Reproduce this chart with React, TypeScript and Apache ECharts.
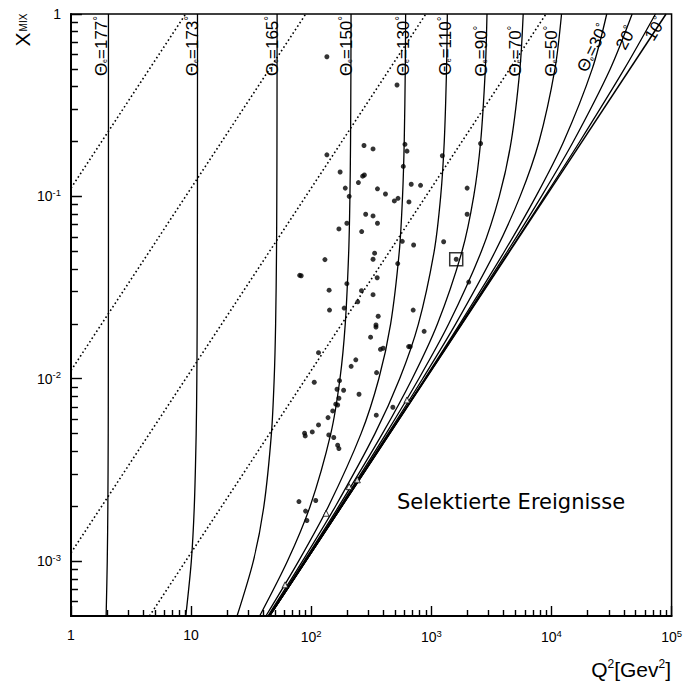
import React, { useEffect, useRef } from 'react';
import * as echarts from 'echarts';

// Bjorken-x grid on which the constant-angle curves were read
const xGrid = [1, 0.5, 0.2, 0.1, 0.05, 0.02, 0.01, 0.005, 0.002, 0.001, 0.0005];

// Q^2 values of the lines of constant electron angle, read at xGrid
const q2Theta177 = [2.05, 2.05, 2.05, 2.05, 2.05, 2.048, 2.045, 2.041, 2.027, 2.004, 1.961];
const q2Theta173 = [11.3, 11.3, 11.29, 11.29, 11.27, 11.23, 11.16, 11.02, 10.63, 10.04, 9.03];
const q2Theta165 = [51.97, 51.94, 51.85, 51.7, 51.41, 50.54, 49.16, 46.62, 40.35, 32.96, 24.12];
const q2Theta150 = [214.5, 214.0, 212.5, 210.0, 205.2, 192.0, 173.5, 145.5, 97.97, 63.44, 37.21];
const q2Theta130 = [610.8, 606.7, 594.7, 575.7, 541.1, 458.4, 365.4, 259.9, 139.2, 78.51, 41.93];
const q2Theta110 = [1358.5, 1338.3, 1281.1, 1196.0, 1055.7, 780.9, 544.6, 339.3, 159.2, 84.49, 43.58];
const q2Theta90 = [2906, 2815, 2574, 2252, 1801, 1125.4, 692.5, 391.4, 169.8, 87.38, 44.34];
const q2Theta70 = [5817, 5464, 4622, 3678, 2611, 1396, 786.2, 419.6, 174.9, 88.72, 44.68];
const q2Theta50 = [12134, 10693, 7883, 5482, 3407, 1595, 845.7, 436.0, 177.7, 89.44, 44.86];
const q2Theta30 = [28860, 21853, 12642, 7427, 4069, 1726.8, 881.4, 445.3, 179.2, 89.81, 44.96];
const q2Theta20 = [46948, 30855, 15209, 8244, 4303, 1767.6, 891.8, 448.0, 179.7, 89.93, 44.98];
const q2Theta10 = [73421, 40437, 17221, 8802, 4450, 1791.9, 898.0, 449.5, 179.9, 89.98, 44.99];

// kinematic limit (y = 1), end points [Q2, x]
const limitLine = [[45, 0.0005], [90000, 1]];

// dotted lines of constant y, end points [Q2, x]
const dottedY0001 = [[1, 0.111], [9, 1]];
const dottedY001 = [[1, 0.0111], [90, 1]];
const dottedY01 = [[1, 0.00111], [900, 1]];
const dottedY1 = [[4.5, 0.0005], [9000, 1]];

// selected events
const eventsQ2 = [135, 518, 135, 275, 327, 603, 627, 174, 584, 1235, 2570, 277, 268, 247, 192, 207, 356, 415, 492, 528, 651, 680, 813, 1986, 284, 327, 356, 198, 170, 263, 1986, 1266, 573, 712, 337, 327, 130, 1611, 525, 80.1, 82.5, 198, 354, 2047, 141, 262, 327, 244, 142, 188, 706, 361, 346, 346, 312, 377, 397, 647, 667, 871, 115, 235, 215, 350, 106, 172, 164, 186, 170, 160, 166, 250, 151, 138, 115, 102, 88.0, 89.1, 140, 154, 166, 170, 348, 478, 79.0, 109, 89.7, 92.0];
const eventsX = [0.583, 0.408, 0.169, 0.19, 0.182, 0.193, 0.177, 0.136, 0.146, 0.167, 0.195, 0.131, 0.129, 0.119, 0.111, 0.1, 0.11, 0.103, 0.0944, 0.0976, 0.0932, 0.1165, 0.115, 0.111, 0.0798, 0.0781, 0.0712, 0.0712, 0.0663, 0.0641, 0.0798, 0.0564, 0.0567, 0.0541, 0.0488, 0.0452, 0.045, 0.0452, 0.0428, 0.0369, 0.0367, 0.0332, 0.0358, 0.0339, 0.0306, 0.0304, 0.0289, 0.0264, 0.0238, 0.0244, 0.0238, 0.022, 0.0197, 0.0192, 0.0169, 0.0145, 0.0147, 0.015, 0.015, 0.0182, 0.0139, 0.0127, 0.0117, 0.0108, 0.00957, 0.00976, 0.00876, 0.00865, 0.00782, 0.00725, 0.00718, 0.00822, 0.00666, 0.00612, 0.00558, 0.00511, 0.00503, 0.00486, 0.00492, 0.00476, 0.00432, 0.00414, 0.00631, 0.00698, 0.00212, 0.00215, 0.00188, 0.00167];

// small open triangles on the curves
const triQ2 = [60.6, 133, 207, 242, 627];
const triX = [0.000741, 0.00183, 0.00256, 0.00279, 0.00765];

// highlighted event (box)
const boxQ2 = [1611];
const boxX = [0.0452];

// tick labels (exponents)
const xMajorExp = [0, 1, 2, 3, 4, 5];
const yMajorExp = [-3, -2, -1, 0];

const FONT = 'Liberation Sans';

export default function App() {
  const ref = useRef<HTMLDivElement>(null);
  useEffect(() => {
    if (!ref.current) return;
    const chart = echarts.init(ref.current, undefined, { renderer: 'svg' });
    const L = Math.log10;
    const curve = (q: number[]) => q.map((v, i) => [L(v), L(xGrid[i])]);
    const pts = (a: number[][]) => a.map((p) => [L(p[0]), L(p[1])]);
    const scat = (q: number[], x: number[]) => q.map((v, i) => [L(v), L(x[i])]);
    const yMin = L(0.0005);
    const gridH = 602;
    const gridW = 605;
    const yPerPx = -yMin / gridH; // log-decades per pixel (vertical)
    const xPerPx = 5 / gridW; // log-decades per pixel (horizontal)

    // tick marks as short segments in axis units
    const ticks: any[] = [];
    const xTick = (v: number, len: number) =>
      ticks.push({ coords: [[v, yMin], [v, yMin + len * yPerPx]] });
    const yTick = (v: number, len: number) =>
      ticks.push({ coords: [[0, v], [len * xPerPx, v]] });
    xMajorExp.forEach((e) => xTick(e, 10));
    for (let n = 0; n <= 4; n++) for (let k = 2; k <= 9; k++) xTick(L(k * Math.pow(10, n)), 6);
    yMajorExp.forEach((e) => yTick(e, 11));
    for (let n = -4; n <= -1; n++)
      for (let k = 2; k <= 9; k++) {
        const v = k * Math.pow(10, n);
        if (v > 0.00051 && v < 1) yTick(L(v), 7);
      }

    const richLab = {
      b: { fontSize: 14, fontFamily: FONT, color: '#000' },
      s: { fontSize: 9.5, fontFamily: FONT, color: '#000', padding: [0, 0, 8, 0] },
    };
    const fmtX = (v: number) => {
      const e = Math.round(v);
      if (e === 0) return '{b|1}';
      if (e === 1) return '{b|10}';
      return '{b|10}{s|' + e + '}';
    };
    const fmtY = (v: number) => {
      const e = Math.round(v);
      if (e === 0) return '{b|1}';
      return '{b|10}{s|' + e + '}';
    };

    const lineS = (data: number[][], width = 1.3) => ({
      type: 'line',
      data,
      symbol: 'none',
      smooth: 0.3,
      lineStyle: { color: '#000', width },
      silent: true,
      z: 2,
    });
    const dotS = (data: number[][]) => ({
      type: 'line',
      data,
      symbol: 'none',
      lineStyle: { color: '#000', width: 1.6, type: [1.6, 2.6] },
      silent: true,
      z: 1,
    });

    const thetaLabels = [
      { v: '177', x: 101, y: 46, r: 90, full: true },
      { v: '173', x: 192, y: 46, r: 90, full: true },
      { v: '165', x: 272, y: 46, r: 90, full: true },
      { v: '150', x: 346, y: 46, r: 90, full: true },
      { v: '130', x: 403, y: 46, r: 90, full: true },
      { v: '110', x: 445, y: 46, r: 90, full: true },
      { v: '90', x: 481, y: 51, r: 90, full: true },
      { v: '70', x: 515, y: 51, r: 90, full: true },
      { v: '50', x: 551, y: 51, r: 90, full: true },
      { v: '30', x: 593, y: 48, r: 64, full: true },
      { v: '20', x: 626, y: 38, r: 62, full: false },
      { v: '10', x: 655, y: 29, r: 58, full: false },
    ];
    const thetaRich = {
      t: { fontSize: 17, fontFamily: FONT, fill: '#000' },
      e: { fontSize: 7, fontFamily: FONT, fill: '#000', padding: [7, 0, 0, 0] },
      d: { fontSize: 12, fontFamily: FONT, fill: '#000', padding: [0, 0, 7, 0] },
    };

    const graphics: any[] = thetaLabels.map((l) => ({
      type: 'text',
      x: l.x,
      y: l.y,
      rotation: (l.r * Math.PI) / 180,
      silent: true,
      style: {
        text: l.full ? '{t|Θ}{e|e}{t|=' + l.v + '}{d|°}' : '{t|' + l.v + '}{d|°}',
        rich: thetaRich,
        align: 'center',
        verticalAlign: 'middle',
        fill: '#000',
      },
    }));
    graphics.push({
      type: 'text',
      x: 22,
      y: 30,
      rotation: Math.PI / 2,
      silent: true,
      style: {
        text: '{x|X}{m|MIX}',
        rich: {
          x: { fontSize: 21, fontFamily: FONT, fill: '#000' },
          m: { fontSize: 10, fontFamily: FONT, fill: '#000', padding: [3, 0, 0, 1] },
        },
        align: 'center',
        verticalAlign: 'middle',
      },
    });
    graphics.push({
      type: 'text',
      x: 671,
      y: 669,
      silent: true,
      style: {
        text: '{b|Q}{s|2}{b|[Gev}{s|2}{b|]}',
        rich: {
          b: { fontSize: 21, fontFamily: FONT, fill: '#000' },
          s: { fontSize: 12, fontFamily: FONT, fill: '#000', padding: [0, 0, 10, 0] },
        },
        align: 'right',
        verticalAlign: 'middle',
      },
    });
    graphics.push({
      type: 'text',
      x: 397,
      y: 502,
      silent: true,
      style: {
        text: 'Selektierte Ereignisse',
        fontSize: 21,
        fontFamily: 'DejaVu Sans',
        fill: '#000',
        align: 'left',
        verticalAlign: 'middle',
      },
    });

    const option: any = {
      animation: false,
      backgroundColor: '#fff',
      grid: {
        left: 71,
        top: 14,
        width: gridW,
        height: gridH,
        show: true,
        borderColor: '#000',
        borderWidth: 1.5,
        backgroundColor: 'transparent',
      },
      xAxis: {
        type: 'value',
        min: 0,
        max: 5,
        position: 'bottom',
        axisLine: { show: true, onZero: false, lineStyle: { color: '#000', width: 2 } },
        axisTick: { show: false },
        axisLabel: { show: true, customValues: xMajorExp, formatter: fmtX, rich: richLab, margin: 12, color: '#000' },
        splitLine: { show: false },
      },
      yAxis: {
        type: 'value',
        min: yMin,
        max: 0,
        position: 'left',
        axisLine: { show: true, onZero: false, lineStyle: { color: '#000', width: 2 } },
        axisTick: { show: false },
        axisLabel: { show: true, customValues: yMajorExp, formatter: fmtY, rich: richLab, margin: 10, color: '#000' },
        splitLine: { show: false },
      },
      graphic: graphics,
      series: [
        dotS(pts(dottedY0001)),
        dotS(pts(dottedY001)),
        dotS(pts(dottedY01)),
        dotS(pts(dottedY1)),
        lineS(curve(q2Theta177)),
        lineS(curve(q2Theta173)),
        lineS(curve(q2Theta165)),
        lineS(curve(q2Theta150)),
        lineS(curve(q2Theta130)),
        lineS(curve(q2Theta110)),
        lineS(curve(q2Theta90)),
        lineS(curve(q2Theta70)),
        lineS(curve(q2Theta50)),
        lineS(curve(q2Theta30)),
        lineS(curve(q2Theta20)),
        lineS(curve(q2Theta10)),
        lineS(pts(limitLine), 1.5),
        {
          type: 'lines',
          coordinateSystem: 'cartesian2d',
          data: ticks,
          symbol: 'none',
          silent: true,
          z: 4,
          lineStyle: { color: '#000', width: 1.4, opacity: 1, curveness: 0 },
        },
        {
          type: 'scatter',
          data: scat(eventsQ2, eventsX),
          symbol: 'circle',
          symbolSize: 5,
          itemStyle: { color: '#000' },
          silent: true,
          z: 5,
        },
        {
          type: 'scatter',
          data: scat(triQ2, triX),
          symbol: 'triangle',
          symbolSize: 6,
          itemStyle: { color: '#fff', borderColor: '#000', borderWidth: 1 },
          silent: true,
          z: 5,
        },
        {
          type: 'scatter',
          data: scat(boxQ2, boxX),
          symbol: 'rect',
          symbolSize: 13,
          itemStyle: { color: 'rgba(0,0,0,0)', borderColor: '#000', borderWidth: 1.5 },
          silent: true,
          z: 6,
        },
      ],
    };
    chart.setOption(option);
    return () => chart.dispose();
  }, []);
  return (
    <div
      ref={ref}
      style={{ position: 'fixed', left: 0, top: 0, width: 685, height: 686, background: '#fff' }}
    />
  );
}
